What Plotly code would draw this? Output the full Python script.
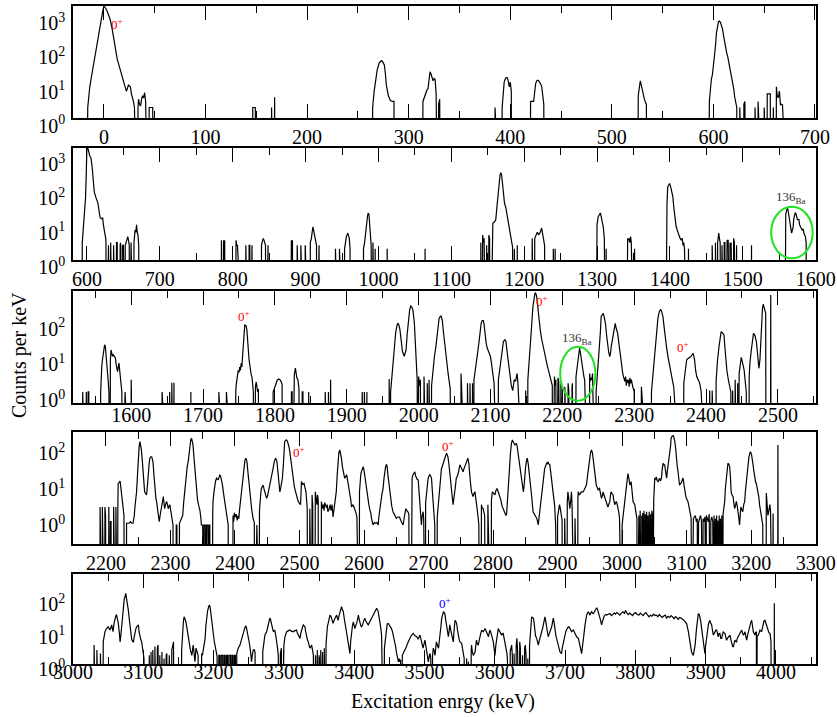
import plotly.graph_objects as go

W, H = 837, 717
FONT = "Liberation Serif, Times New Roman, serif"

# ---------------- data: (excitation energy keV, counts per keV) ----------------
panel1 = [
(-22,0),(-17,0),(-16,2),(-14,8),(-12,18),(-10,40),(-8,100),(-7,160),(-5,350),(-3,700),(-1,1400),(0,1800),(1,1700),(3,1300),(5,900),(6,760),(8,400),(10,160),(12,75),(13,52),(15,32),(17,20),(19,13),(21,8),(22,6),(23,7),(24,9),(25,8.5),(26,8),(27,5),(28,4),(29,3),(30,2),(30.5,0),(33,0),(33.5,2),(34,3.5),(35,2.5),(36,2.2),(37,3.5),(38,4.4),(39,3.8),(40,5.4),(41,3),(41.5,0),(44,0),(44.5,2),(48,2),(48.5,0),
(146,0),(146.5,2),(149,2),(149.5,0),
(164.5,0),(165,2),(165.5,0),(167.5,0),(168,4),(168.5,0),
(264,0),(264.5,2),(266,6),(267,11),(269,25),(271,40),(273,46),(274,45),(276,35),(277,20),(278,9),(280,4.4),(282,3.2),(284,3),(285.5,3),(286,0),
(313.5,0),(314,3),(316,4.5),(318,6.5),(319,7),(320,15),(321,22),(322,19),(323,15),(324,12),(325,14),(326,13),(327,5),(327.5,0),(329,0),(329.5,2.5),(330.5,3.5),(331.5,0),
(384.5,0),(385,2),(385.5,0),
(391.5,0),(392,2),(393,7),(394,11),(395,13.5),(396,15),(397,15),(398,12),(399,8),(400,11),(401,6),(401.5,0),
(419.5,0),(420,3),(423,3),(424,7),(425,10),(426,12),(427,12.5),(428,12),(429,11),(430,9.5),(431,8),(432,5),(433,2.5),(433.5,0),
(525.5,0),(526,4.4),(527,8),(528,12),(529,9),(530,6),(531,4.4),(532,3.5),(533,2.9),(534,2.5),(534.5,0),
(595,0),(596,3),(597,8),(598,13.5),(599,18),(600,30),(601,52),(602,120),(603,300),(604,540),(605,640),(606,660),(607,600),(608,480),(609,390),(610,250),(611,160),(612,110),(613,80),(614,63),(615,45),(616,30),(617,20),(618,14),(619,9.7),(620,7),(621,4),(622,3),(623,2),(623.5,0),
(625.5,0),(626,2),(626.5,0),(629.5,0),(630,2.5),(631,3),(631.5,0),
(640.5,0),(641,2),(641.5,0),(643.5,0),(644,3),(644.5,0),(649.5,0),(650,2),(650.5,0),(652.5,0),(653,5),(656,5),(656.5,0),(658.5,0),(659,2),(659.5,0),(661.5,0),(662,8),(663,4),(664,4),(665,6),(666,2.4),(667,2.5),(668,2.4),(668.5,0),(675,0),
]

panel2 = [
(585,0),(593,0),(593.5,3),(595,8.7),(596,15),(597,20),(598,60),(599,300),(600,2500),(601,1800),(602,1300),(603,1200),(604,1000),(605.5,880),(607,500),(608,250),(609,130),(610,91),(612,65),(614,48),(615,43),(616,30),(617,20),(618,16),(620,15),(621.5,16),(622.5,10),(624,7),(625,5),(626,3.6),(626.5,0),
(629,0),(629.5,2.5),(630,0),(632,0),(632.5,3),(633,0),(636,0),(636.5,2.5),(637,0),(640,0),(640.5,3),(641.5,3),(642,0),(645,0),(645.5,2.5),(646,3),(646.5,0),(648,0),(648.5,2.5),(650,2.5),(650.5,0),(652,0),(652.5,2.5),(654,3.5),(655,4),(656,4.5),(657,3.5),(658,2.5),(658.5,0),(660,0),(660.5,3),(661,0),(664,0),(664.5,3),(665,4),(666,7),(667,6),(668,10),(669,6),(670,5),(671,2.5),(671.5,0),
(784,0),(784.5,3.5),(785,0),(787,0),(787.5,3.5),(788,2.5),(789,3.5),(789.5,0),
(804,0),(804.5,3.5),(805.5,2.5),(806.5,2.5),(807,0),
(817.5,0),(818,2.5),(818.5,0),(822,0),(822.5,2.5),(823.5,2.5),(824,0),(826,0),(826.5,2.5),(827,0),
(839,0),(839.5,2.5),(841,3.5),(842,4),(843,3.5),(844,3),(845,2.5),(845.5,0),(848,0),(848.5,2.5),(849,0),
(879,0),(879.5,3.5),(880.5,3.5),(881,2.5),(882,3.5),(882.5,0),
(888,0),(888.5,2.5),(889,0),(893,0),(893.5,2.5),(894,0),(899,0),(899.5,2.5),(900,0),
(906,0),(906.5,3),(908,4),(909,6),(910,8.6),(911,7),(912,5),(913,3.5),(914,3),(915,2.5),(915.5,0),(918,0),(918.5,2.5),(919,0),
(940.5,0),(941,2),(941.5,0),(946,0),(946.5,2),(947,0),
(953,0),(953.5,2),(955,3.5),(956,4.5),(958,5.7),(959,5),(960,4),(961,2),(961.5,0),
(979,0),(979.5,2),(981,3),(982,5),(983,8),(984,13),(985,18),(986,22),(987,20),(988,10),(989,5),(990,2.5),(990.5,0),(992,0),(992.5,3),(993,0),(995,0),(995.5,2),(996,0),
(1011.5,0),(1012,2),(1012.5,0),
(1063.5,0),(1064,2),(1064.5,0),
(1140,0),(1140.5,3),(1141,0),(1142.5,0),(1143,5),(1144,3),(1145,4),(1145.5,0),(1148,0),(1148.5,2.5),(1149,0),(1151,0),(1151.5,5),(1152.5,4),(1153,0),
(1155.5,0),(1156,5),(1157,11),(1159,12),(1161,14),(1163,40),(1165,150),(1167,300),(1168,320),(1169,290),(1170,180),(1171,90),(1173,43),(1175,30),(1177,18),(1179.5,8.7),(1181,5),(1183,3),(1184,2.3),(1184.5,0),(1186,0),(1186.5,2),(1187,0),(1190,0),(1190.5,2.5),(1191,0),
(1210.5,0),(1211,4),(1212,3),(1212.5,0),(1214,0),(1214.5,4),(1216,5),(1218,6),(1220,5),(1222,6),(1224,8),(1225,6),(1226,5),(1227,3),(1228,2.5),(1228.5,0),
(1239.5,0),(1240,2),(1240.5,0),(1242,0),(1242.5,2),(1243,0),
(1298.5,0),(1299,4),(1300,10),(1301.5,17),(1303,20),(1304.5,22),(1306,16),(1307,12),(1308.5,8.7),(1310,4),(1310.5,0),(1312,0),(1312.5,2),(1313,0),
(1340.5,0),(1341,3),(1342,4),(1343,3.5),(1344,4),(1345,3),(1346,4.5),(1347,3),(1347.5,0),(1351,0),(1351.5,2),(1352,0),
(1394,0),(1395,5),(1396,40),(1397,127),(1398.5,155),(1399.5,160),(1401,130),(1402.5,95),(1404,66),(1405.5,30),(1407,15),(1408.5,9),(1410,7),(1412,5),(1414,4),(1415.5,3.6),(1417,4),(1418,2.5),(1419,3),(1420,2),(1420.5,0),(1425,0),(1425.5,2),(1426,0),
(1457.5,0),(1458,2.5),(1458.5,0),(1462,0),(1462.5,3),(1463,0),(1465,0),(1465.5,3),(1466,4),(1467,5.7),(1468,4),(1469,3),(1469.5,0),(1471,0),(1471.5,2.5),(1472,0),(1474,0),(1474.5,3),(1475.5,3),(1476,0),(1478,0),(1478.5,3.5),(1480,3.5),(1480.5,0),(1482,0),(1482.5,3),(1483,2.5),(1484,3),(1484.5,0),(1487,0),(1487.5,4),(1488.5,3),(1489,0),(1491,0),(1491.5,2.5),(1492,0),
(1511.5,0),(1512,2.5),(1512.5,0),
(1557.5,0),(1558,10),(1559,20),(1560,25),(1561,30),(1562,28),(1563,20),(1564,18),(1565,14),(1566,8),(1567,5.7),(1568,7),(1569,8),(1570,15),(1571,22),(1572,22),(1573,21),(1574,16),(1575,14),(1577,14),(1578,10),(1580,8),(1581.5,7),(1583,7.5),(1584,5.5),(1586,4.5),(1587,3),(1587.5,0),(1600,0),
]

panel3 = [
(1520,0),(1532,0),(1532.5,1),(1533,0),(1537,0),(1537.5,1),(1538,0),(1539.5,0),(1540,1),(1541,1),(1541.5,0),
(1557,0),(1557.5,1),(1558,3),(1559,5),(1560,8),(1561,13),(1562,17),(1563,21),(1564,19),(1565,12),(1566,7),(1567,4),(1568,2),(1569,1),(1569.5,0),(1570.5,0),(1571,8),(1572,15),(1573,12),(1574,10),(1575,11),(1577,10),(1578,9),(1579,6),(1580,4),(1581,3.7),(1582,5),(1583,6.5),(1584,4),(1585,2.5),(1586,1.5),(1587,1),(1587.5,0),(1590,0),(1590.5,1),(1591.5,1),(1592,0),
(1599.5,0),(1600,2.2),(1600.5,1),(1601.5,1),(1602,0),
(1642.5,0),(1643,1),(1643.5,0),
(1653,0),(1653.5,1),(1654,0),(1656,0),(1656.5,1.8),(1657,0),(1659,0),(1659.5,1.8),(1660,0),
(1682.5,0),(1683,1),(1683.5,0),(1721.5,0),(1722,1),(1722.5,0),(1732,0),(1732.5,1),(1733,0),
(1745,0),(1745.5,1),(1746,1.5),(1748,3),(1749,4),(1750,3.5),(1751,5),(1752,4),(1753,6.3),(1754,5),(1755,10),(1756,35),(1757,68),(1758,75),(1759,74),(1760,70),(1761,55),(1762,35),(1763,15),(1764,8),(1765,5),(1766,3.5),(1767,3),(1768,2.7),(1769,1.5),(1770,1),(1770.5,0),(1771.5,0),(1772,1),(1773,1.5),(1774,1.9),(1775,1.5),(1776,1),(1777,1.2),(1777.5,0),
(1797,0),(1797.5,1),(1799,1.2),(1801,1.7),(1803,2.1),(1805,2.3),(1807,2.2),(1809,1.9),(1810,1.6),(1810.5,0),
(1822.5,0),(1823,1),(1824,1),(1824.5,0),(1825.5,0),(1826,1.5),(1827,3),(1828.5,4.7),(1829.5,3.5),(1830.5,2.5),(1832,2.2),(1833.5,1.2),(1834,0),(1837.5,0),(1838,1),(1839,1),(1839.5,0),
(1846.5,0),(1847,1),(1847.5,0),
(1869.5,0),(1870,1),(1870.5,0),(1874,0),(1874.5,1),(1875,0),(1877,0),(1877.5,2.2),(1878,1),(1878.5,0),
(1921,0),(1921.5,1),(1922,0),(1924,0),(1924.5,1),(1925,0),(1927.5,0),(1928,1),(1928.5,0),
(1958.5,0),(1959,2.3),(1959.5,0),
(1960.5,0),(1961,1),(1963,3),(1965,10),(1967,30),(1968,45),(1970,75),(1971.5,85),(1973,70),(1974,55),(1976,25),(1977.5,13.6),(1980,10),(1982.5,15),(1984,40),(1986,105),(1987.5,200),(1989,257),(1990.5,240),(1992,200),(1994,90),(1995,35),(1996,12),(1997,6),(1998,2.2),(1998.5,0),
(1999.5,0),(2000,2.7),(2001,1.5),(2002.5,2.2),(2003,0),(2007,0),(2007.5,2.7),(2008,0),(2011.5,0),(2012,1.75),(2013,0),(2014,0),(2014.5,2.2),(2015,0),
(2017.5,0),(2018,1.5),(2019,2.7),(2021,5),(2022,10),(2024,18.6),(2026,45),(2028.5,115),(2030,130),(2031,135),(2032,118),(2033,100),(2034,60),(2035.5,35),(2037,18),(2038,9.8),(2040,5),(2041,3.3),(2042.5,1.75),(2043,2),(2044,1.2),(2044.5,0),
(2058.5,0),(2059,3.3),(2059.5,0),(2067.5,0),(2068,1.75),(2068.5,0),(2071,0),(2071.5,1.75),(2072,0),(2074.5,0),(2075,1.75),(2075.5,0),
(2076.5,0),(2077,2.2),(2079,4),(2080,6),(2082,12),(2084,25),(2085.5,50),(2087,84),(2088.5,100),(2090,100),(2091,80),(2092,45),(2094,23),(2095.5,17),(2097,13.5),(2098.5,11),(2100,9.8),(2101.5,6),(2103,4.1),(2104,2.5),(2105,1.75),(2105.5,0),
(2110.5,0),(2111,2.2),(2113,5),(2115,9.8),(2116.5,15),(2118,26),(2120,29),(2121.5,26),(2123,14),(2125,6.3),(2126.5,4),(2127.6,2.7),(2129,1.5),(2131,1.1),(2133,2.2),(2135,2),(2137,3.3),(2138,2),(2138.5,0),
(2148.5,0),(2149,1.1),(2149.5,0),
(2151.5,0),(2152,2.2),(2153.5,5),(2155.5,18.6),(2157,60),(2159,245),(2160.5,450),(2162,605),(2163.5,550),(2165,380),(2166.5,180),(2168,84),(2169.5,50),(2171,32),(2172.5,22),(2174,15),(2175.5,11),(2177,7.9),(2179,5.5),(2180.6,4.1),(2182,3),(2184,2.2),(2186,1.5),(2186.5,0),(2188.5,0),(2189,2.7),(2190,1.5),(2191,2.2),(2191.5,0),(2193.5,0),(2194,2.5),(2195,2),(2195.5,0),(2197.5,0),(2198,1.75),(2198.5,0),(2203,0),(2203.5,1.4),(2204,0),(2207.5,0),(2208,1.75),(2209,1.1),(2209.5,0),(2213,0),(2213.5,1.4),(2214,1.75),(2214.5,0),
(2218.5,0),(2219,2.7),(2220.5,5),(2221.5,7.9),(2223,13),(2224,17),(2225,13),(2226,8.8),(2227.5,5.5),(2228.5,4.1),(2230,2.7),(2231,2.2),(2231.5,0),(2237.5,0),(2238,3.3),(2239,2),(2240,2.5),(2241,2.2),(2242,3.3),(2242.5,0),
(2246.5,0),(2247,1),(2249,3.3),(2250.5,8),(2252,18.6),(2253,50),(2254,130),(2255.5,150),(2257,160),(2258.5,120),(2260,84),(2261.5,40),(2263,18.6),(2264.5,13),(2266,9.8),(2267,12),(2268,18.6),(2270,35),(2272,70),(2273.6,84),(2275,60),(2276,50),(2277,44),(2278.5,25),(2280,14),(2281,8.8),(2282.5,5),(2284,3.3),(2285.5,2.5),(2287,2.0),(2288,2.7),(2289,1.5),(2290,2.2),(2291,1.8),(2292,2.2),(2293,1.4),(2294,2.5),(2295,1.75),(2296,2.2),(2297,1.5),(2298,1.4),(2299,1.2),(2300,1.0),(2300.5,0),(2309.5,0),(2310,1.4),(2310.5,0),
(2323.5,0),(2324,1),(2326,2.7),(2327.5,6),(2329,18.6),(2331,50),(2333,115),(2335,180),(2337,206),(2338.5,170),(2340,130),(2341.5,70),(2343,35),(2345,18),(2347,9.8),(2349,5.5),(2351,3.3),(2352.5,2.5),(2354,1.75),(2355,1.4),(2355.5,0),
(2368.5,0),(2369,1.75),(2371,4),(2373,7.9),(2374.5,8.5),(2376,8.8),(2377.5,9.5),(2379,9.8),(2380.5,11),(2382,12),(2383,10),(2384,7.9),(2385.5,4),(2387,2.7),(2389,2.2),(2391,1.8),(2393,1.1),(2393.5,0),
(2404.5,0),(2405,1.1),(2405.5,0),(2408,0),(2408.5,1.1),(2409,0),
(2413.5,0),(2414,2),(2414.5,3.3),(2416,8),(2418,18.6),(2419.5,35),(2421,49),(2423,45),(2425,39),(2426,20),(2427.5,7.9),(2429,4),(2431,2.2),(2433,1.5),(2434.5,1.0),(2435,0),(2436.5,0),(2437,1.1),(2437.5,0),(2440,0),(2440.5,2.2),(2441,1.1),(2441.5,0),(2443.5,0),(2444,1.75),(2444.5,0),
(2445.5,0),(2446,3.3),(2447.5,6),(2449,9.3),(2450.5,7),(2452,5),(2453,4.1),(2454.5,2),(2456,1.0),(2456.5,0),
(2459.5,0),(2460,2.5),(2461,6.3),(2463,15),(2464.5,30),(2466,44),(2468,38),(2470,26),(2472,10),(2473.5,4.6),(2475,7.9),(2476,30),(2477,100),(2478.5,220),(2479.6,290),(2481,240),(2482,190),(2483,160),(2483.5,0),
(2489.5,0),(2490,520),(2490.5,0),(2550,0),
]

panel4 = [
(2150,0),(2190.5,0),(2191,1.9),(2191.5,0),(2194,0),(2194.5,1.9),(2195,0),(2198,0),(2198.5,1.9),(2199.5,1.1),(2200,0),(2204,0),(2204.5,1.9),(2205,0),(2206.5,0),(2207,0.74),(2208,0.74),(2208.5,0),(2211.5,0),(2212,1.9),(2212.5,0),(2215,0),(2215.5,1.9),(2216,0),
(2218,0),(2218.5,1.9),(2219,8.6),(2220.5,9),(2222,10),(2223,7),(2224,5),(2225.5,2.7),(2227,1.6),(2228,1.1),(2228.5,0),(2231.5,0),(2232,0.67),(2236,0.67),(2238,0.74),(2240,0.67),(2242,0.67),(2244,1.1),(2245,1.9),(2246.5,3.3),(2247.5,5),(2249,15),(2250,43),(2251.5,90),(2252.7,124),(2254,100),(2255,73),(2256.5,35),(2258,18),(2259,9),(2260,5),(2261.5,4.5),(2263,4.1),(2264.5,8),(2265.6,18),(2267,30),(2268,43),(2269.5,47),(2271,47),(2272,40),(2273,34),(2274.5,14),(2276,5),(2277.5,3.3),(2278.5,2.7),(2280.5,1.5),(2282.6,0.74),(2284,1.1),(2286,1.7),(2288,2.7),(2289,3.7),(2290,2.5),(2291,1.7),(2292.5,2.2),(2294,2.7),(2295.5,2.2),(2296.6,1.7),(2298,2.0),(2299,2.2),(2300.5,1.5),(2302,1.1),(2303,0.8),(2304,0.6),(2304.5,0),(2308.5,0),(2309,0.6),(2310,0.6),(2310.5,0),(2313.5,0),(2314,0.67),(2316,0.8),(2318,0.9),(2319,1.1),(2320.5,2.5),(2322,5),
(2324,12),(2326,25),(2327.5,34),(2329,70),(2330,111),(2331.5,140),(2332.7,154),(2334,130),(2335,100),(2336.5,45),(2338,22),(2339,12),(2340.5,5),(2342,3),(2344,2),(2345.6,1.56),(2347,1),(2348,0.6),(2350,0.6),(2350.5,0),(2351.5,0),(2352,0.6),(2354,0.6),(2354.5,0),(2355.5,0),(2356,0.6),(2358,0.6),(2358.5,0),(2359.5,0),(2360,0.6),(2361,0.6),(2361.5,0),
(2365,0),(2365.5,1.1),(2366,2.7),(2367.5,5),(2369,8.6),(2370,10),(2371.5,12),(2373,11.5),(2374,10.7),(2375.5,13),(2376.6,15),(2378,13),(2379.5,10),(2380.7,7.7),(2382,5),(2384,2.7),(2385.5,1.6),(2387,1.1),(2388,0.8),(2389.5,0.6),(2390,0),(2392,0),(2396.5,0),(2397,1.1),(2398,0.74),(2399,1.3),(2400.5,1.0),(2402,1.2),(2403.5,0.8),(2405,1.1),(2406,0.9),(2407,1.5),(2408.5,2.7),
(2410,5),(2412,13),(2414,28),(2415.5,38),(2417,43),(2418.5,35),(2420.5,15),(2422,7),(2424,3.3),(2426,1.6),(2428,0.92),(2430,0.7),(2430.5,0),(2432.5,0),(2433,0.6),(2434,0.6),(2434.5,0),(2437.5,0),(2438,1.5),(2439,3.3),(2440,4.5),(2441,6.2),(2442.5,7),(2443.7,7.7),(2445,6),(2446,5),(2447.5,4),(2449,3.3),(2450.5,3.8),(2452,5),(2454,7.7),(2456.5,12),(2459,22),(2461,35),(2463,43),(2465,35),(2467,15),(2468.5,8),(2469.6,5),(2471,6.5),(2472,7.7),(2473.5,12),(2475,28),(2476,60),(2477,124),(2478.5,135),(2480,137),(2481.5,125),(2482.5,111),(2484,85),(2485,65),(2486.5,40),(2487.6,28),(2489,15),(2490,9.6),(2492,7),(2494,5),(2496,3.5),(2498,2.7),(2500,2.4),(2501.6,2.2),(2502.5,5),(2503,9.6),(2505,8),(2507,8.6),(2508.5,6.5),(2510,5),(2511,3),(2512,1.7),(2512.5,0),(2515.5,0),(2516,1.7),(2517,0),(2519,0),(2519.5,4.1),(2520.5,2),(2521,0),(2524,0),(2524.5,5),(2525.5,3),(2527,2.2),(2528,4.1),(2529,3),(2529.5,0),(2533.5,0),(2534,2.7),(2535.5,1.7),(2537,2.2),(2538,1.5),(2539,2.5),(2540.5,2.2),(2542,1.8),(2543,2.2),(2544,1.4),(2546,1.7),(2547.5,2.2),(2549,1.5),(2550.5,2.2),(2552,1.0),(2553,1.5),(2554.5,2.5),(2556,4),(2557,5),
(2558.5,15),(2560,43),(2561,60),(2562.5,73),(2564,55),(2565,43),(2566.5,25),(2567.7,18),(2569,14),(2570,12),(2571.5,13),(2573,15),(2574,12),(2575,9.6),(2576.5,7),(2578,5),(2579.5,3),(2580.6,1.9),(2582,2.0),(2583,2.2),(2584.5,1.9),(2585.7,1.7),(2587.5,1.3),(2589,1.0),(2590.5,0),(2592.5,0),(2593,5),(2593.5,7.7),
(2595,15),(2596,18),(2597.5,22),(2598.7,25),(2600,20),(2601,15),(2602.5,9),(2604,6.2),(2605,4),(2606,2.7),(2607.5,2.2),(2609,1.6),(2610.5,1.3),(2611.6,0.92),(2613,0.7),(2614,0.6),(2616,0.7),(2618,0.67),(2620,0.7),(2622,0.6),(2623,1.0),(2624.5,1.4),(2626,2.5),(2628,4.5),(2629.6,6.2),(2631,12),(2632,18),(2633.5,25),(2635,29),(2636,24),(2637,15),(2639,7),(2641,3.3),(2643,2),(2645,1.4),(2647,1.2),(2650,0.92),(2652.5,1.0),(2655,1.0),(2657,0.8),(2658.5,0.7),(2660.6,0.6),(2662.5,1.0),(2664.8,1.7),(2666.5,1.5),(2668,1.4),(2669.5,1.2),(2670.5,0),(2673,0),(2673.5,9.6),(2674.5,12),(2676,15),(2677.5,17),(2678.7,18),(2680,14),(2681,12),(2682.5,11),(2684,10.7),
(2685,6.2),(2686,3.5),(2686.5,1.7),(2688,0.9),(2689,0.6),(2690,1.0),(2691.6,1.4),(2692.5,0.9),(2693,0),(2695,0),(2695.5,2.5),(2697,5),(2698,8),(2699.4,12),(2701,14),(2702,15),(2703,14),(2704.6,12),(2706,5),(2707,2.7),(2708.5,1.2),(2709.7,0.6),(2710,0),(2713,0),(2713.5,1.0),(2715,2.2),(2716.5,3.5),(2717.5,5),(2719,12),(2720,22),(2721.5,26),(2722.6,31),(2724,38),(2725,43),(2726.5,50),(2728,59),(2729,55),(2730,47),(2731.5,30),(2733,15),(2734.5,8),(2735.5,5),(2737,3),(2738,2.2),(2739.5,3.5),(2741,5),(2742,8),(2743,12),(2745,14),(2746.5,18),(2748.5,28),(2750,25),(2751,22),(2752.5,20),(2753.6,18),(2755,22),(2756,25),(2758,32),(2759.5,38),(2761,43),(2762.5,30),(2764,18),(2765,9),(2766.5,5),(2768,4.2),(2769,3.7),(2770.5,4.5),(2772,5),(2773,3.5),(2774,2.7),(2775.5,1.6),(2777,0.92),(2778,0.6),(2778.5,0),(2781.5,0),(2782,2.2),(2783,1.8),(2784.6,1.7),(2786,1.3),(2787,1.1),(2788,0),(2791.5,0),(2792,2.2),(2792.5,0),(2797,0),(2797.5,3),(2799,5),(2801,4.5),(2803,4.1),(2804.5,5.5),(2806,6.2),(2808,5),(2810,4.1),(2812,3),(2814,2),(2815.6,1.7),(2818,1.3),(2820,1.1),(2821,1.2),(2822,2.5),(2823,5),(2824.5,12),(2826,28),(2827,60),(2828.5,111),(2830,137),(2831,125),(2832.5,105),(2834,100),(2835,105),(2836,111),(2837,100),(2838.5,65),(2840,43),(2842,25),(2844,12),(2845.5,7),(2847,5),(2848,7),(2849,15),(2850.5,25),(2852,38),(2853,43),(2854.5,30),(2856,18),(2857,11),(2858,8),(2860,3.5),(2862,1.4),(2864,1.2),(2866,1.1),(2868,0.9),(2870,0.6),(2871,0.9),(2872,1.1),(2873.5,2.5),(2875,5),(2877,8),(2878.5,13),(2880,22),(2881.5,28),(2883,31),(2884,30),(2885,34),(2886.5,30),(2888,28),(2889,20),(2890.5,12),(2892,7),(2894,4.1),(2895.5,2),(2897,0.6),(2897.5,0),(2899.5,0),(2900,1.0),(2901,1.4),(2902,1.8),(2903,2.2),(2904.5,1.6),(2906,1.1),(2907,0.8),(2907.5,0),(2910.5,0),(2911,0.92),(2911.5,0),(2914.5,0),(2915,2.5),(2916,5),(2917.5,3),(2919,1.7),(2920.5,3),(2921.5,5),(2922.5,2),(2923,0),(2926.5,0),(2927,0.92),(2927.5,0),(2931,0),(2931.5,3),(2932,5),(2933,4.5),(2934,4.1),(2935.5,4.5),(2937,5),(2938.5,5),(2939.5,5),(2941,5.5),(2943,6.5),(2944.7,7.7),(2946,12),(2947,18),(2948.5,28),(2950,43),(2951,60),(2952.5,73),(2954,60),(2955,43),(2956.5,25),(2957.6,18),(2959,10),(2960,7.7),(2961.5,6.5),(2963,5.7),(2964,6),(2965,6.2),(2966.5,4.5),(2968,3.3),(2969.5,4),(2970.5,5),(2972,4),(2974,3),(2975.7,2.7),(2977,2.3),(2978,1.9),(2979.5,2.3),(2981,2.7),(2982,4),(2983,5),(2984.5,4.5),(2986,4.1),(2987,3),(2988.6,2.2),(2990,2.5),(2991,2.7),(2992.5,2.2),(2994,1.7),(2995,1.3),(2996,0.92),(2997,0),(2999.5,0),(3000,0.6),(3001.5,1.1),(3003,2),(3004,3.3),(3005,5),(3006.7,9.6),(3008,13),(3009,16),(3010.5,12),(3012,7.7),(3013,8.5),(3014,9.6),(3015.5,5),(3017,2.7),(3018.5,2.4),(3019.6,2.2),(3021,1.5),(3022,1.1),(3023,0.9),(3023.5,0),
(3025.5,0),(3026,1.1),(3026.5,0),(3027.5,0),(3028,1.5),(3028.5,0),(3030,0),(3030.5,1.1),(3031,0),(3031.5,0),(3032,1.3),(3032.5,0),(3033.5,0),(3034,1.5),(3034.5,0),(3035.5,0),(3036,1.2),(3036.5,0),(3037.5,0),(3038,1.4),(3038.5,0),(3039.5,0),(3040,1.1),(3040.5,0),(3041.5,0),(3042,1.4),(3042.5,0),(3043.5,0),(3044,1.2),(3044.5,0),(3045.5,0),(3046,1.5),(3047,1.2),(3047.5,0),
(3048.5,0),(3049,3),(3050.6,12),(3052,11),(3053,13),(3054.5,10),(3056,9.6),(3057,11),(3058,12),(3059.5,10),(3061,12),(3062,20),(3063.5,31),(3065,28),(3066,28),(3067.5,18),(3069,12),(3070,18),(3071,28),(3072.5,45),(3074,65),(3075,90),(3076,154),(3077.5,175),(3079,182),(3080,170),(3081.5,130),(3083,80),(3084,43),(3085.5,25),(3086.7,18),(3088,10),(3089,7.7),(3090.5,8.5),(3092,9.1),(3093.5,11),(3094.5,12),(3096,7.7),(3097,5),(3098.5,4),(3099.6,3.3),(3101,3),(3102,2.7),(3103.5,2),(3105,1.4),(3106,1.0),(3107,0.92),(3108,0),
(3110,0),(3110.5,0.9),(3112,1.0),(3113.5,1.1),(3115,0.74),(3116.5,0.9),(3117,0),(3118,0),(3118.5,0.7),(3120,0.9),(3121.5,1.1),(3123,0.8),(3124,0),(3125,0),(3125.5,0.9),(3127,0.74),(3128.5,1.0),(3129,0),(3130,0),(3130.5,1.1),(3132,0.9),(3133.5,0.74),(3135,1.2),(3136,0),(3137,0),(3137.5,0.8),(3139,1.0),(3140.5,0.74),(3141,0),(3142,0),(3142.5,1.1),(3143,0),(3144,0),(3144.5,0.9),(3145,0),(3146,0),(3146.5,1.1),(3147,0),(3148,0),(3148.5,0.8),(3149,0),(3150,0),(3150.5,1.1),(3151,0),(3152,0),(3152.5,0.9),(3153,0),(3154,0),(3154.5,1.1),(3155,0),(3156,0),(3156.5,1.2),
(3158,2),(3159,2.7),(3160,6),(3161.6,15),(3163,26),(3164,31),(3165,30),(3166.7,25),(3168,12),(3169,5),(3170.5,4),(3172,3.7),(3173,2.5),(3174.5,1.7),(3176,2.2),(3177,2.7),(3178.5,2),(3180,1.4),(3181,0.9),(3182,0.6),(3183,1.2),(3184,1.9),(3185,1.7),(3186,1.5),(3187,1.4),(3188.5,2.2),(3190,2.7),(3191,5),(3192.6,9.6),(3194,20),(3195,28),(3196.5,45),(3198,60),(3199,65),(3200.5,55),(3202,40),(3203,28),(3204,20),(3205.5,12),(3207,9.1),(3208,8.6),(3209.5,6.5),(3211,5),(3212,3.5),(3213,2.2),(3214.5,1.5),(3216,0.92),(3217,0.8),(3218,0.6),(3218.5,0),(3223,0),(3223.5,4.6),(3224.5,2.5),(3226,1.1),(3227.5,1.5),(3229,2.2),(3230,1.5),(3230.5,0),(3233.5,0),(3234,1.26),(3234.5,0),
(3241,0),(3241.5,100),(3242,0),(3300,0),
]

panel5 = [
(3000,0),(3029.5,0),(3030,3.1),(3031,1.5),(3031.5,0),(3033.5,0),(3034,2.2),(3034.5,0),(3038.5,0),(3039,1.7),(3039.5,0),
(3042.5,0),(3043,3.9),(3044,6),(3045.5,8),(3047,9.5),(3048,10),(3049,11),(3050,11.4),(3051.5,10),(3052.6,9),(3054,11),(3055,13),(3056,10),(3057,8),(3058.5,15),(3060,23),(3061,25),(3062,26),(3063.5,20),(3064.5,14.4),(3066,7),(3067,3.9),(3068,6),(3069,10),(3070.5,30),(3071.6,53),(3073,85),(3074,95),(3075,121),(3076,90),(3077.5,60),(3078.7,37),(3080,20),(3081,13),(3082.5,7),(3083.5,4.7),(3085,4),(3086,3.9),(3087,5.5),(3088,8),(3089.5,10),(3090.6,11.4),(3092,12),(3093,13),(3094,8),(3095,5.6),(3096.5,4.5),(3097.7,3.9),(3099,2.5),(3100,1.9),(3101,1.2),(3101.5,0),
(3108,0),(3108.5,1.5),(3109,0),(3110.5,0),(3111,1.9),(3111.5,0),(3113,0),(3113.5,2.2),(3114,0),(3116,0),(3116.5,2.8),(3117,1.5),(3117.5,0),(3119.5,0),(3120,2.5),(3121,3.1),(3121.5,0),(3123,0),(3123.5,1.5),(3124,0),(3126,0),(3126.5,1.9),(3127,0),(3129,0),(3129.5,1.2),(3130,0),(3132,0),(3132.5,1.5),(3133.5,1.7),(3134,0),(3136.5,0),(3137,1.5),(3137.5,0),(3140,0),(3140.5,2.2),(3142,3.5),(3143,3.9),(3143.5,0),
(3154,0),(3154.5,2),(3156,10),(3157,16),(3158,23),(3159,21),(3160.7,16),(3162,10),(3163,8),(3164.5,4.5),(3165.5,3.1),(3167,2.2),(3169,1.5),(3170,2.5),(3171,3.1),(3172,2),(3173.5,0.95),(3175,2.5),(3176.5,1.9),(3178,1.5),(3178.5,0),(3182.5,0),(3183,1.7),(3184,1.5),(3185,2),(3186.5,3.1),(3188,5),(3189,12),(3190,21),(3191.5,35),(3193,47),(3194,53),(3195,47),(3196,30),(3197,16),(3198.5,9),(3199.6,6.3),(3201,4),(3202,3.1),(3203,2.2),(3204,1.7),(3205,1.4),(3205.5,0),
(3207,0),(3207.5,1.5),(3209,1.5),(3209.5,0),(3210.5,0),(3211,1.5),(3213,1.5),(3213.5,0),(3214.5,0),(3215,1.5),(3216.5,1.5),(3217,0),(3218,0),(3218.5,1.5),(3220,1.5),(3220.5,0),(3221.5,0),(3222,1.5),(3224,1.5),(3224.5,0),(3225.5,0),(3226,1.5),(3227.5,1.5),(3228,0),(3229,0),(3229.5,1.5),(3231,1.5),(3231.5,0),(3232.5,0),(3233,1.7),
(3235,2.5),(3237.5,3.1),(3240,5),(3242,8),(3243.5,9),(3245,11.4),(3246,12),(3247,10),(3248,8),(3249,6.3),(3250.5,4),(3252,2.5),(3253,1.5),(3254,0.95),(3255,1.5),(3256.5,2.2),(3258,2.2),(3259,1.9),(3259.5,0),
(3269.5,0),(3270,2),(3271,3.1),(3272,5),(3273,6.3),(3274,7),(3275.5,8),(3277,11),(3278,13),(3279,17),(3280,21),(3281,19),(3282.6,14.4),(3284,10),(3285,8),(3286,8.5),(3287,9),(3288.5,6),(3290,3.9),(3291,2.5),(3292,1.5),(3293,0),(3294.5,0),(3295,1.7),(3296.5,2.5),(3297,0),(3299.5,0),(3300,3),(3301.5,5.6),(3303,7),(3304,8),(3306,8.5),(3307.5,9),(3308.7,9),(3310,8.5),(3311.5,8),(3313,8),(3315,8.5),(3316.5,9),(3318,9),(3319.5,7),(3321,6),(3323,5),(3324,7),(3325,9),(3326.5,11),(3327.6,13),(3329,12),(3330,11.4),(3331,8),(3332,5.6),(3333.5,4.5),(3334.7,3.9),(3336,3),(3337,2.5),(3338.5,2.8),(3339.5,3.1),(3341,2),(3342,1.5),(3342.5,0),
(3344.5,0),(3345,1.5),(3345.5,0),(3347,0),(3347.5,2.2),(3348,0),(3349.5,0),(3350,1.5),(3350.5,0),(3352,0),(3352.5,2.2),(3353,0),(3354.5,0),(3355,1.9),(3355.5,0),(3357,0),(3357.5,2.5),(3358,0),
(3359.5,0),(3360,3.5),(3361,8),(3362,12),(3363,14.4),(3364.5,20),(3365.6,26),(3367,24),(3368,21),(3369,17),(3370,14.4),(3371,17),(3372.7,21),(3374,24),(3375,26),(3376,22),(3377,18),(3378.5,25),(3380,33),(3381,38),(3382,47),(3383,40),(3384.5,33),(3386,20),(3387,13),(3388,10),(3389,8),(3390.5,5),(3391.7,3.1),(3393,2),(3394,1.7),(3395,4),(3396,8),(3397.5,12),(3398.8,16),(3400,12),(3401,10),(3402,12),(3403.5,14.4),(3405,20),(3406,26),(3407,20),(3408,14.4),(3409.5,12),(3410.6,11.4),(3412,13),(3413,16),(3414,19),(3415,21),(3416.5,17),(3417.7,14.4),(3419,14),(3420,13),(3421.5,15),(3422.5,18),(3424,21),(3425,23),(3426,25),(3427,26),(3428.5,30),(3429.6,33),(3431,38),(3432,42),(3433,38),(3434,35),(3435.5,22),(3436.7,16),(3438,10),(3439,6.3),(3440,3),(3441,1.2),(3441.5,0),(3442.5,0),(3443,2.5),(3444,3.9),(3445,8),(3446,13),(3447,14),(3448.5,14.4),(3450,13),(3451,11.4),(3452,10.5),(3453,10),(3454.5,8),(3455.6,6.3),(3457,5),(3458,3.9),(3459,2.8),(3460,1.9),(3461.5,1.2),(3463,0.95),(3464,1.2),(3465,0.95),(3466,1.1),(3467,0),(3468,0),(3468.5,1.5),(3470,1.9),(3471,2.2),(3472,2.2),(3473.5,2.5),(3474.6,3.1),(3476,3.5),(3477,3.9),(3478,4.5),(3479,5),
(3481,6),(3484,7.1),(3486.5,6),(3489,5.6),(3491,4.7),(3493.6,6.3),(3496,3.9),(3498,2.5),(3500.7,4.4),(3502,3),(3503,1.7),(3504,1.3),(3505.5,0.95),(3507,1.5),(3508,1.7),(3509,1.2),(3509.5,0),(3511,0),(3511.5,1.5),(3512.6,2.5),(3514,2),(3515,1.5),(3516,2.5),(3517,3.9),(3518.5,3),(3520,2.5),(3521,4),(3522,8),(3523.5,12),(3524.5,21),(3526,29),(3527,33),(3528,31),(3529,29),(3530,20),(3531.6,10),(3533,7),(3534,5.6),(3535,8),(3536,13),(3537,10),(3538.7,7.1),(3540,5),(3541,3.9),(3542,8),(3543.4,18),(3545,16),(3545.8,14.4),(3547,9),(3548,6.3),(3549.5,4.5),(3550.5,3.9),(3552,3.7),(3553,3.5),(3554,2.5),(3555.3,1.7),(3556.5,1.2),(3557,0),(3559.5,0),(3560,1.2),(3560.5,0),(3562,0),(3562.5,0.95),(3563,0),(3566,0),(3566.5,2.2),(3567,3.1),(3568,2),(3569.5,1.5),(3571,1.7),(3572,1.9),(3573,3),(3574,4.4),(3575,3.5),(3576.6,3.1),(3578,4.5),(3579,6.3),(3580,7),(3581.4,9),(3582.5,8.5),(3583.7,8),(3585,9),(3586,10),(3587,9),(3588.5,8),(3590,6.5),(3591,5.6),(3592,7),(3593,9),(3594.5,7.5),(3595.6,6.3),(3597,4.5),(3598,3.9),(3599,2.5),(3600.3,1.5),(3601.5,3),(3602.7,5),(3604,7),(3605,10),(3606,9),(3607.4,8),(3608.5,7),(3609.8,6.3),(3611,7),(3612,7.1),(3613,5.5),(3614.5,3.9),(3616,2.5),(3617,1.9),(3618,1.2),(3618.5,0),
(3621.5,0),(3622,2),(3623,2.5),(3624,3.1),(3625,1.5),(3625.5,0),(3627,0),(3627.5,1.7),(3628,0),(3630,0),(3630.5,3),(3631.5,5),(3632.5,2),(3633,0),(3635,0),(3635.5,3.9),(3636.5,2.5),(3637,0),(3639,0),(3639.5,1.5),(3640,0),(3642,0),(3642.5,2.5),(3643.5,3.1),(3644.5,1.5),(3645,0),(3646.5,0),(3647,1.2),(3647.5,0),(3649,0),
(3649.5,3),(3650.5,8),(3651.5,16),(3652.5,23),(3653.5,22),(3655,21),(3656,15),(3657,8),(3658,6),(3659.6,5),(3661,4),(3662,3.1),(3663,4),(3664.3,5.6),(3665.5,7),(3666.7,8),(3668,10),(3669,13),(3670,18),(3671.4,23),(3672.5,17),(3674,11.4),(3675,8),(3676,5.6),(3677.5,7),(3678.6,8),(3680,10),(3681,11.4),(3682,15),(3683.3,21),(3684.5,15),(3685.7,8),(3687,6),(3688,5),(3689,4),(3690.4,3.1),(3692,2.2),(3692.8,1.9),(3694,1.8),(3695,1.7),(3696,2.5),(3697.5,3.9),(3699,5.5),(3700,7.1),(3701,8),(3702,9),(3703.5,10.5),(3704.7,11.4),(3706,11),(3707,10),(3708,9),(3709.4,8),(3710.5,8.5),(3711.8,9),(3713,8),(3714,7.1),(3715,6.5),(3716.5,5.6),(3718,5.2),(3719,5),(3720,4),(3721.2,3.1),(3722.5,2.2),(3723.6,1.7),(3724.5,2.5),(3726,3.9),(3727,7),(3728.4,13),(3729.5,20),(3730.7,26),(3732,30),(3733,33),(3734,30),(3735.5,26),(3736.5,30),(3737.8,33),(3739,30),(3740,29),(3741,31),(3742.6,37),(3744,40),(3745,44),(3746,40),(3747.3,33),(3748.5,26),(3749.7,21),(3751,16),(3752,13),(3753,16),(3754.4,21),(3755.5,24),(3756.8,26),(3758,27),
(3759,26),(3761.5,28),(3764,29),(3766,25),(3768,27),(3770,30),(3771.5,28),(3773.5,31),(3775.5,29),(3778,26),(3780,30),(3782.5,33),(3784.5,29),(3786,36),(3788,30),(3790,27),(3792,30),(3794,28),(3796,25),(3798,29),(3800.5,31),(3802.5,27),(3805,26),(3807,30),(3809,28),(3811,25),(3813,29),(3815,31),(3817,27),(3819.5,23),(3821.5,26),(3823.5,24),(3826,28),(3828,25),(3830,26),(3832,23),(3834,27),(3836,25),(3838,22),(3840,24),(3842.5,26),(3844.5,21),(3846.5,24),(3849,22),(3851,25),(3853,23),(3855,20),(3857,23),(3859,22),(3861,19),(3863,22),(3865,21),(3867,20),(3869,18),(3871,16),(3873,14),
(3875.4,8),(3877.7,3.5),(3880,1.9),(3882.5,1.5),(3885,3.1),(3887,10),(3888.5,20),(3889.6,29),(3891,27),(3892,23),(3893,17),(3894.3,10),(3895.5,6),(3896.7,3.9),(3898,2.5),(3899,1.7),(3900,3),(3901.4,5.6),(3902.5,8),(3903.8,13),(3905,16),(3906,18),(3907,15),(3908.6,13),(3910,8),(3911,6.3),(3912,7),(3913.3,8),(3914.5,9),(3915.7,9),(3917,6),(3918,5.6),(3919,7),(3920.4,7.1),(3921.5,5),(3922.8,5),(3924,6.5),(3925,8),(3926,7.5),(3927.5,7.1),(3929,5),(3930,4.4),(3931,5),(3932.3,5.6),(3933.5,6),(3934.6,6.3),(3936,4.5),(3937,3.5),(3938.5,2.8),(3939.4,2.8),(3940.5,3.5),(3941.7,4.4),(3943,4),(3944,3.9),(3945,5),(3946.5,5.6),(3948,6.5),(3949,7.1),(3950,8),(3951.2,9),(3952.5,7),(3953.6,6.3),(3955,7),(3956,8),(3957,6),(3958.4,4.4),(3959.5,6),(3960.7,8),(3962,11),(3963,14.4),(3964,15),(3965.5,18),(3966.5,12),(3967.8,8),(3969,7),(3970,6.3),(3971,7.5),(3972.2,8),(3972.6,0),(3973,0),(3973.3,6),(3975,6.3),(3976,7.5),(3977.3,9),(3978.5,8.5),(3979.7,8),(3981,11),(3982,14.4),(3983,17),(3984.4,18),(3985.5,15),(3986.8,13),(3988,10),(3989,8),(3990,7.5),(3991.5,7.1),(3992.5,5),(3993,3.9),(3993.5,0),
(3997.5,0),(3997.7,60),(3998,0),(4057,0),
]

spectra = [panel1, panel2, panel3, panel4, panel5]

# axis settings per panel: x range (keV), y range (log10), y tick decades
x_ranges = [[-30.5, 701], [580.8, 1600.5], [1519, 2553], [2149, 3300.5], [3000, 4057]]
y_ranges = [[-0.005, 3.26], [-0.03, 3.24], [-0.31, 2.83], [-0.75, 2.36], [-0.09, 2.68]]
y_decades = [[0, 1, 2, 3], [0, 1, 2, 3], [0, 1, 2], [0, 1, 2], [0, 1, 2]]
x_label_standoff = [0, 0, -7, 0, -11]

# plot-area pixel boxes (top, bottom)
panel_px = [(6, 118), (148, 260), (291, 403), (432, 544), (574, 664)]
PLOT_L, PLOT_R = 73, 816

ZERO_FLOOR = 1e-4  # empty bins drawn below the axis floor (clipped)

fig = go.Figure()
for i, spec in enumerate(spectra):
    n = i + 1
    xs = [e for e, c in spec]
    ys = [c if c > 0 else ZERO_FLOOR for e, c in spec]
    fig.add_trace(go.Scatter(x=xs, y=ys, mode="lines",
                             line=dict(color="black", width=1.2),
                             xaxis=f"x{n}", yaxis=f"y{n}",
                             showlegend=False, hoverinfo="skip"))

layout = dict(width=W, height=H, margin=dict(l=0, r=0, t=0, b=0, autoexpand=False),
              paper_bgcolor="white", plot_bgcolor="white",
              font=dict(family=FONT, size=20, color="black"), showlegend=False)

for i in range(5):
    n = i + 1
    top, bot = panel_px[i]
    xk = "xaxis" if n == 1 else f"xaxis{n}"
    yk = "yaxis" if n == 1 else f"yaxis{n}"
    layout[xk] = dict(domain=[PLOT_L / W, PLOT_R / W], anchor=f"y{n}",
                      range=x_ranges[i], tick0=0, dtick=100, automargin=False,
                      ticks="inside", ticklen=14, tickwidth=1.2, tickcolor="black",
                      minor=dict(dtick=50, tick0=0, ticks="inside", ticklen=7,
                                 tickwidth=1.2, tickcolor="black", showgrid=False),
                      showline=True, linewidth=1.5, linecolor="black", mirror="ticks",
                      showgrid=False, zeroline=False,
                      ticklabelstandoff=x_label_standoff[i], ticklabeloverflow="allow",
                      tickfont=dict(family=FONT, size=20, color="black"))
    layout[yk] = dict(domain=[1 - bot / H, 1 - top / H], anchor=f"x{n}",
                      type="log", range=y_ranges[i], automargin=False,
                      tickvals=[10 ** d for d in y_decades[i]],
                      ticktext=[f"10<sup>{d}</sup>" for d in y_decades[i]],
                      ticks="", showline=True, linewidth=1.5, linecolor="black",
                      mirror=True, showgrid=False, zeroline=False,
                      ticklabelshift=8, ticklabelstandoff=2, ticklabeloverflow="allow",
                      tickfont=dict(family=FONT, size=20, color="black"))

fig.update_layout(**layout)


def paper(px, py):
    return px / W, 1 - py / H


annotations = []
# state labels
labels_0plus = [((117, 24), "red"), ((244, 316), "red"), ((542, 301), "red"),
                ((683, 347), "red"), ((299, 452), "red"), ((448, 446), "red"),
                ((445, 603), "blue")]
for (px_, py_), col in labels_0plus:
    x, y = paper(px_, py_)
    annotations.append(dict(x=x, y=y, xref="paper", yref="paper", text="0<sup>+</sup>",
                            xanchor="center", yanchor="middle",
                            showarrow=False, font=dict(family=FONT, size=13, color=col)))
for px_, py_ in [(791, 197), (577, 338)]:
    x, y = paper(px_, py_)
    annotations.append(dict(x=x, y=y, xref="paper", yref="paper", text="136<sub>Ba</sub>",
                            xanchor="center", yanchor="middle",
                            showarrow=False, font=dict(family=FONT, size=13, color="#333333")))

# axis titles
x, y = paper(19, 355)
annotations.append(dict(x=x, y=y, xref="paper", yref="paper", text="Counts per keV",
                        xanchor="center", yanchor="middle",
                        textangle=-90, showarrow=False, font=dict(family=FONT, size=20)))
x, y = paper(443, 701)
annotations.append(dict(x=x, y=y, xref="paper", yref="paper", text="Excitation enrgy (keV)",
                        xanchor="center", yanchor="middle",
                        showarrow=False, font=dict(family=FONT, size=20)))

shapes = [
    dict(type="circle", xref="x2", yref="y2 domain", x0=1539, x1=1596, y0=0.015, y1=0.476,
         line=dict(color="#22e022", width=2)),
    dict(type="circle", xref="x3", yref="y3 domain", x0=2197, x1=2246, y0=0.02, y1=0.503,
         line=dict(color="#22e022", width=2)),
]

fig.update_layout(annotations=annotations, shapes=shapes)
fig.write_html("out.html")
